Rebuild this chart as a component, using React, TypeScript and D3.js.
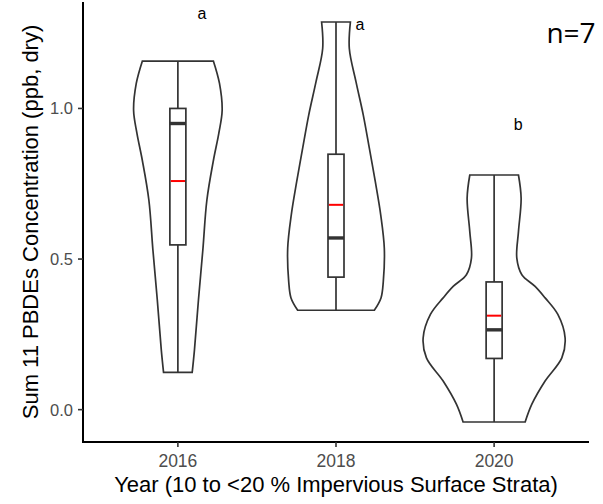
import React from "react";
import * as d3 from "d3";

const categories = ["2016", "2018", "2020"];
const yTicks = [0.0, 0.5, 1.0];

// violin density profiles: [value, relative density]
const violin2016: [number, number][] = [
  [1.157, 0.494], [1.083, 0.578], [0.994, 0.615], [0.918, 0.569], [0.828, 0.494],
  [0.696, 0.403], [0.531, 0.347], [0.365, 0.286], [0.2, 0.231], [0.1235, 0.199],
];
const violin2018: [number, number][] = [
  [1.287, 0.2], [1.199, 0.185], [1.088, 0.278], [0.978, 0.379], [0.868, 0.463],
  [0.757, 0.546], [0.647, 0.621], [0.536, 0.671], [0.426, 0.657], [0.371, 0.625], [0.33, 0.532],
];
const violin2020: [number, number][] = [
  [0.779, 0.338], [0.702, 0.375], [0.591, 0.338], [0.503, 0.315], [0.448, 0.385],
  [0.409, 0.569], [0.371, 0.708], [0.316, 0.885], [0.238, 0.986], [0.172, 0.94],
  [0.095, 0.708], [0.018, 0.524], [-0.041, 0.431],
];
const violins = [violin2016, violin2018, violin2020];

// box stats
const mins = [0.1235, 0.33, -0.041];
const q1s = [0.547, 0.44, 0.17];
const medians = [0.95, 0.57, 0.265];
const means = [0.759, 0.68, 0.312];
const q3s = [1.0, 0.848, 0.424];
const maxs = [1.157, 1.287, 0.779];

const letters = ["a", "a", "b"];
const letterY = [1.296, 1.26, 0.928];

const W = 603, H = 504;
const margin = { left: 83, right: 14, top: 2, bottom: 62 };

export default function App() {
  const x0 = margin.left, x1 = W - margin.right;
  const yTop = margin.top, yBot = H - margin.bottom;
  const allMin = Math.min(...mins), allMax = Math.max(...maxs);
  const pad = (allMax - allMin) * 0.05;
  const y = d3.scaleLinear().domain([allMin - pad, allMax + pad]).range([yBot, yTop]);
  const xIdx = d3.scaleLinear().domain([0.4, 3.6]).range([x0, x1]);
  const xc = (i: number) => xIdx(i + 1);
  const wScale = d3.scaleLinear().domain([0, 1]).range([0, 72]);
  const boxHalf = 8;
  const stroke = "#333333";
  const sw = 1.7;

  const font = "'Liberation Sans', Arial, sans-serif";

  return (
    <svg width={W} height={H} style={{ position: "absolute", left: 0, top: 0, background: "#fff" }}>
      <rect width={W} height={H} fill="#fff" />
      {violins.map((v, i) => {
        const cx = xc(i);
        const area = d3.area<[number, number]>()
          .y((d) => y(d[0]))
          .x0((d) => cx - wScale(d[1]))
          .x1((d) => cx + wScale(d[1]))
          .curve(d3.curveCatmullRom.alpha(0.5));
        return (
          <g key={"v" + i}>
            <path d={area(v) || ""} fill="none" stroke={stroke} strokeWidth={sw} />
            <line x1={cx} x2={cx} y1={y(maxs[i])} y2={y(mins[i])} stroke={stroke} strokeWidth={sw} />
            <rect x={cx - boxHalf} width={boxHalf * 2} y={y(q3s[i])} height={y(q1s[i]) - y(q3s[i])}
              fill="#fff" stroke={stroke} strokeWidth={sw} />
            <line x1={cx - boxHalf} x2={cx + boxHalf} y1={y(medians[i])} y2={y(medians[i])} stroke={stroke} strokeWidth={3.4} />
            <line x1={cx - boxHalf + 0.9} x2={cx + boxHalf - 0.9} y1={y(means[i])} y2={y(means[i])} stroke="#ff0000" strokeWidth={2} />
            <text x={cx + 24} y={y(letterY[i])} textAnchor="middle" fontFamily={font} fontSize={16} fill="#000">{letters[i]}</text>
          </g>
        );
      })}
      {/* axes */}
      <line x1={x0} x2={x0} y1={yTop} y2={yBot + 1} stroke="#000" strokeWidth={2} />
      <line x1={x0 - 1} x2={x1} y1={yBot} y2={yBot} stroke="#000" strokeWidth={2} />
      {yTicks.map((t) => (
        <g key={"yt" + t}>
          <line x1={x0 - 5} x2={x0} y1={y(t)} y2={y(t)} stroke={stroke} strokeWidth={1.6} />
          <text x={x0 - 10} y={y(t)} dy="0.36em" textAnchor="end" fontFamily={font} fontSize={16.5} fill="#4d4d4d">{d3.format(".1f")(t)}</text>
        </g>
      ))}
      {categories.map((c, i) => (
        <g key={"xt" + c}>
          <line x1={xc(i)} x2={xc(i)} y1={yBot} y2={yBot + 5} stroke={stroke} strokeWidth={1.6} />
          <text x={xc(i)} y={467} textAnchor="middle" fontFamily={font} fontSize={17.5} fill="#4d4d4d">{c}</text>
        </g>
      ))}
      <text x={(x0 + x1) / 2} y={492} textAnchor="middle" fontFamily={font} fontSize={22} fill="#000">
        Year (10 to &lt;20 % Impervious Surface Strata)
      </text>
      <text transform={`translate(38,${(yTop + yBot) / 2}) rotate(-90)`} textAnchor="middle" fontFamily={font} fontSize={22} fill="#000">
        Sum 11 PBDEs Concentration (ppb, dry)
      </text>
      <text x={571} y={43} textAnchor="middle" fontFamily="'Open Sans', sans-serif" fontSize={28} fill="#000">n=7</text>
    </svg>
  );
}
